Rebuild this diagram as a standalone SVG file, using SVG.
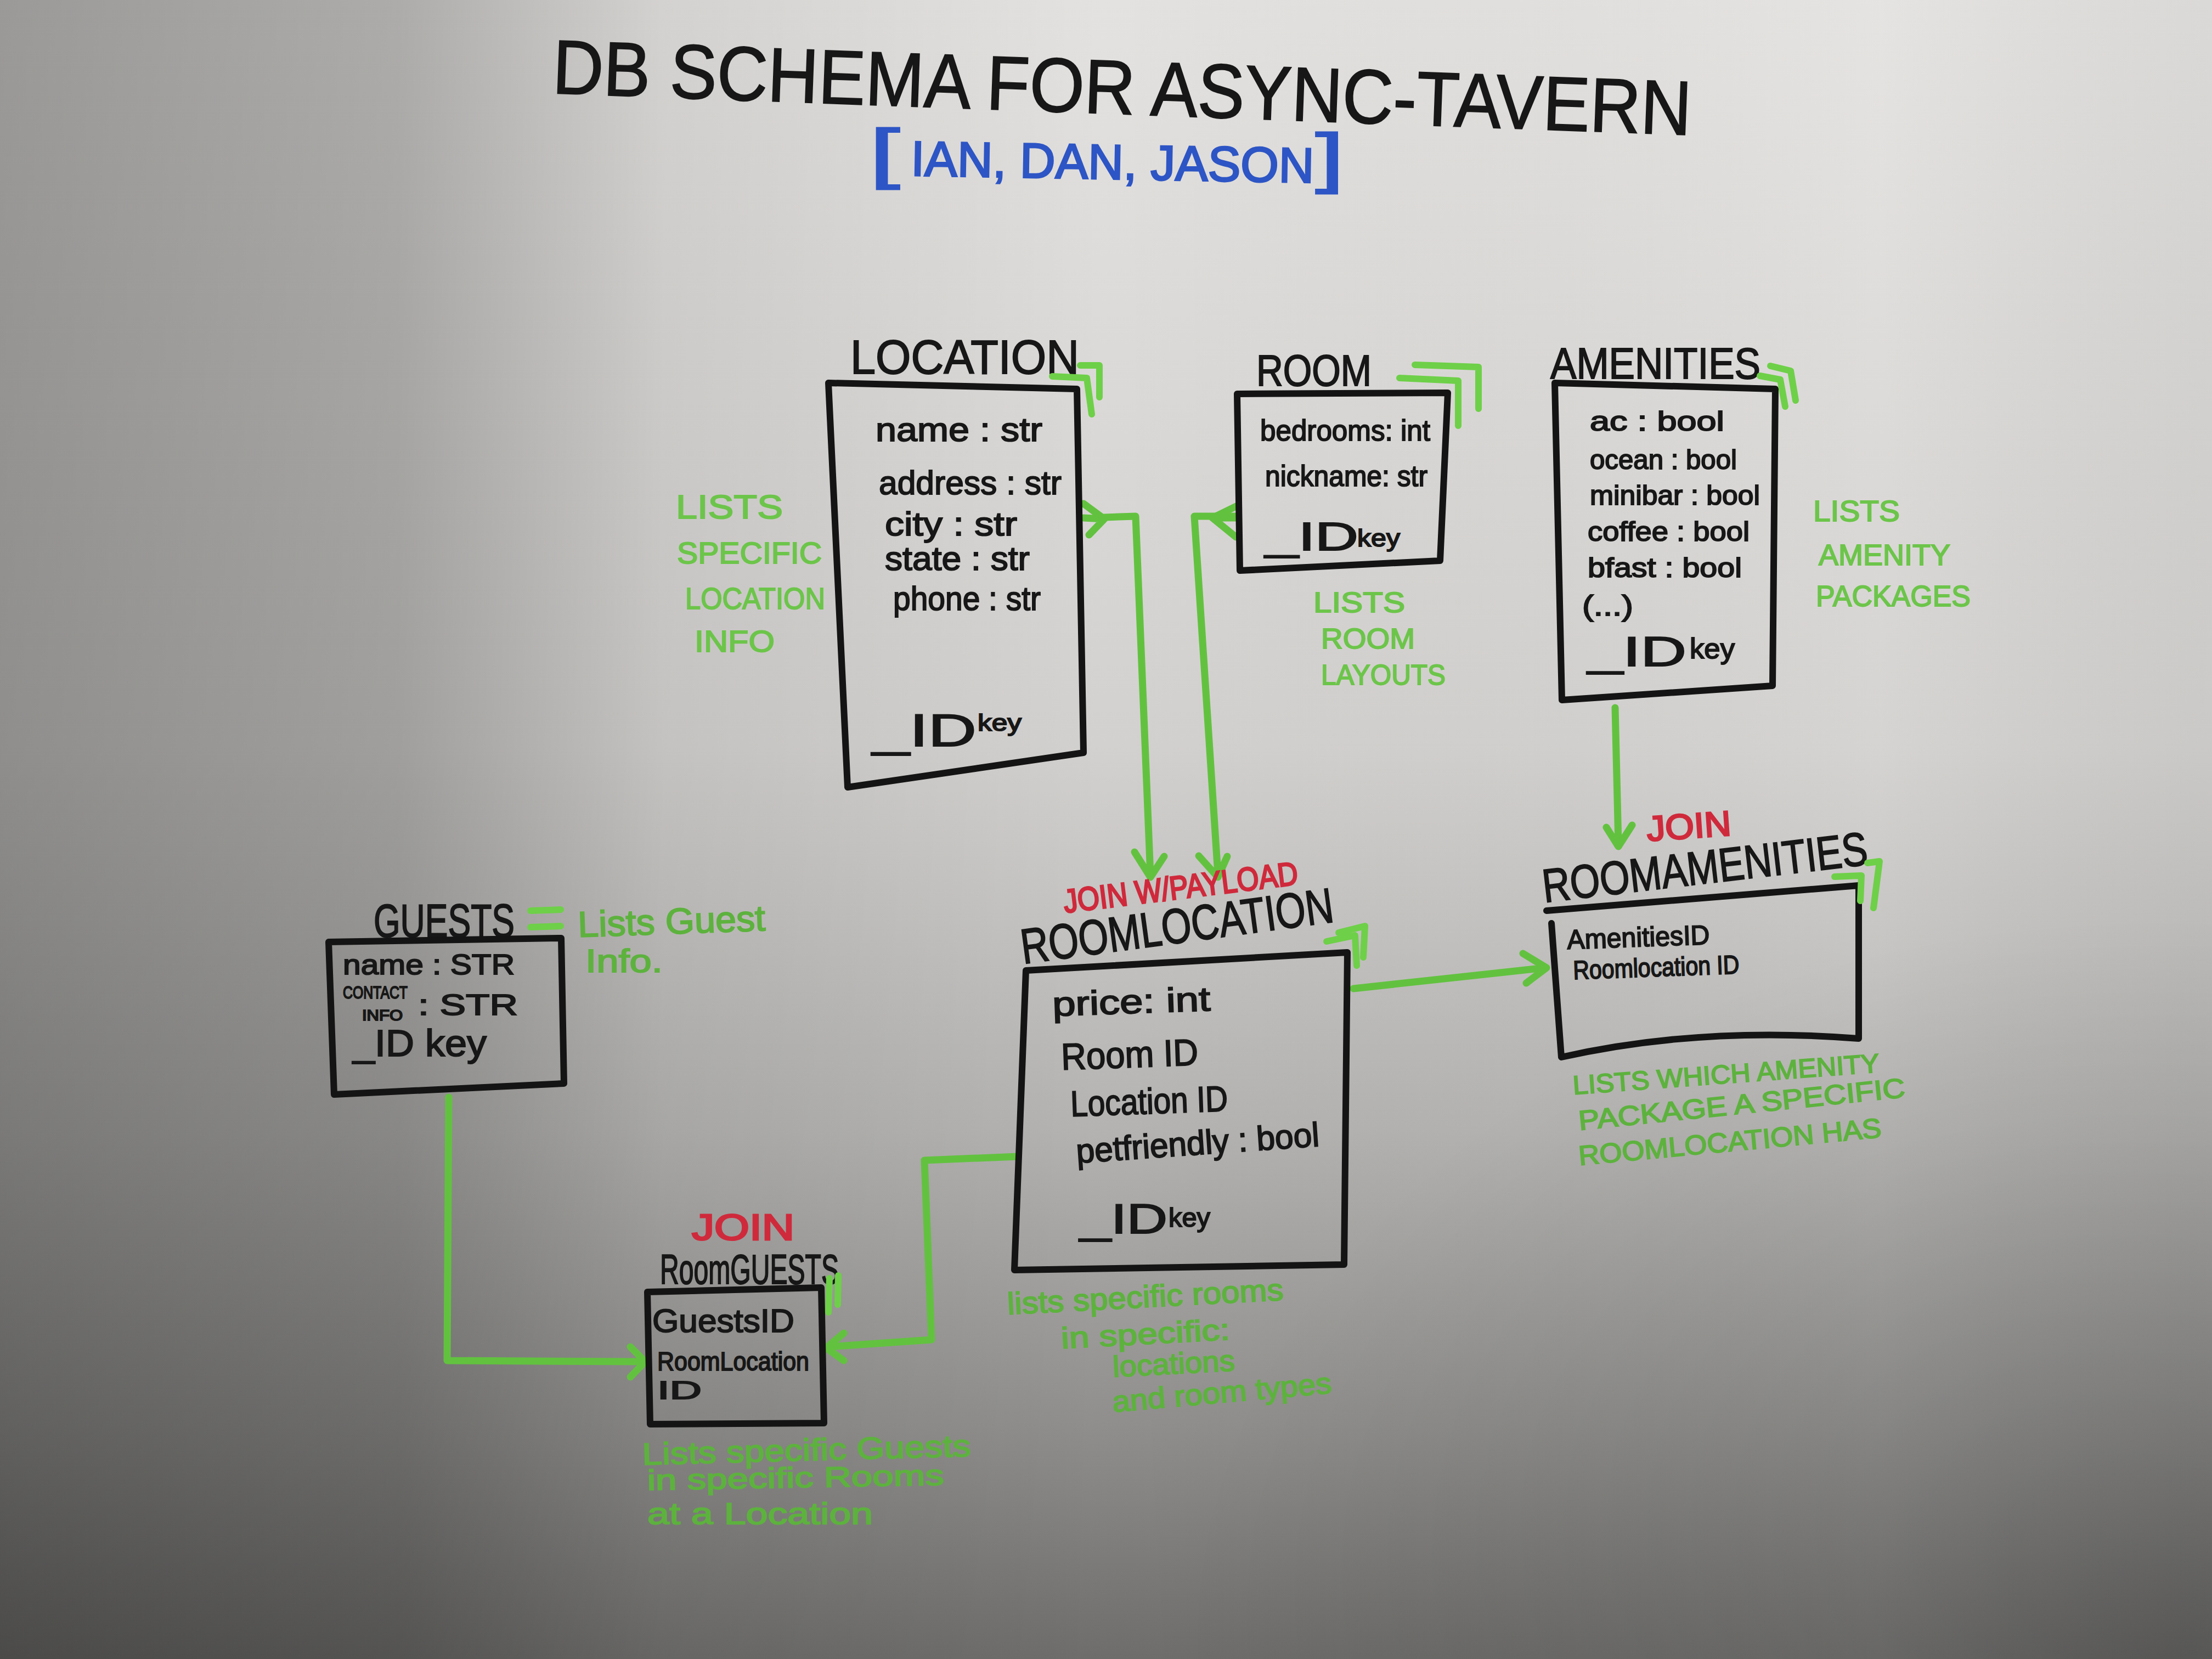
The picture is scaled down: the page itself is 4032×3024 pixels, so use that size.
<svg xmlns="http://www.w3.org/2000/svg" width="4032" height="3024" viewBox="0 0 4032 3024">
<defs>
<linearGradient id="bgv" x1="0" y1="0" x2="0" y2="1">
<stop offset="0" stop-color="#e4e2e0"/>
<stop offset="0.45" stop-color="#d3d1cf"/>
<stop offset="0.68" stop-color="#b4b3b1"/>
<stop offset="0.86" stop-color="#8f8e8c"/>
<stop offset="1" stop-color="#6e6d6b"/>
</linearGradient>
<linearGradient id="bgh" x1="0" y1="0" x2="1" y2="0">
<stop offset="0" stop-color="#000" stop-opacity="0.32"/>
<stop offset="0.18" stop-color="#000" stop-opacity="0.24"/>
<stop offset="0.3" stop-color="#000" stop-opacity="0.07"/>
<stop offset="0.5" stop-color="#000" stop-opacity="0"/>
<stop offset="0.85" stop-color="#fff" stop-opacity="0.06"/>
<stop offset="1" stop-color="#000" stop-opacity="0.04"/>
</linearGradient>
<radialGradient id="bgr" cx="0.98" cy="1" r="0.45">
<stop offset="0" stop-color="#000" stop-opacity="0.18"/>
<stop offset="1" stop-color="#000" stop-opacity="0"/>
</radialGradient>
<style>
text{font-family:"Liberation Sans",Arial,sans-serif;}
.k{fill:#171717;stroke:#171717;stroke-width:2;}
.g{fill:#6cc54a;stroke:#6cc54a;stroke-width:2;}
.gd{fill:#5db23e;stroke:#5db23e;stroke-width:2;}
.r{fill:#cf2a3c;stroke:#cf2a3c;stroke-width:3;}
.b{fill:#2d55c5;stroke:#2d55c5;stroke-width:3;}
.box{fill:none;stroke:#141414;stroke-width:12;stroke-linejoin:round;stroke-linecap:round;}
.conn{fill:none;stroke:#62c23f;stroke-width:13;stroke-linejoin:round;stroke-linecap:round;}
.mark{fill:none;stroke:#6ed048;stroke-width:12;stroke-linejoin:round;stroke-linecap:round;}
</style>
</defs>
<rect x="0" y="0" width="4032" height="3024" fill="url(#bgv)"/>
<rect x="0" y="0" width="4032" height="3024" fill="url(#bgh)"/>
<rect x="0" y="0" width="4032" height="3024" fill="url(#bgr)"/>

<g id="title">
<text class="k" x="1006" y="170" font-size="140" textLength="2077" lengthAdjust="spacingAndGlyphs" transform="rotate(2.1 1006 170)">DB SCHEMA FOR ASYNC-TAVERN</text>
<text class="b" x="1585" y="320" font-size="120" textLength="55" lengthAdjust="spacingAndGlyphs">[</text>
<text class="b" x="1660" y="320" font-size="90" textLength="735" lengthAdjust="spacingAndGlyphs" transform="rotate(1 1660 320)">IAN, DAN, JASON</text>
<text class="b" x="2398" y="328" font-size="120" textLength="52" lengthAdjust="spacingAndGlyphs">]</text>
</g>

<g id="connectors">
<path class="conn" d="M1975,918 L2013,946 L1985,975 M1975,944 L2013,946"/>
<path class="conn" d="M2013,943 L2070,941 L2097,1596"/>
<path class="conn" d="M2068,1553 L2097,1599 L2122,1561"/>
<path class="conn" d="M2257,921 L2210,944 L2253,979 M2257,944 L2210,944"/>
<path class="conn" d="M2257,941 L2177,941 L2220,1594"/>
<path class="conn" d="M2185,1560 L2220,1599 L2237,1561"/>
<path class="conn" d="M2944,1290 L2950,1540"/>
<path class="conn" d="M2928,1508 L2950,1543 L2975,1504"/>
<path class="conn" d="M2467,1802 L2817,1764"/>
<path class="conn" d="M2776,1738 L2819,1764 L2782,1792"/>
<path class="conn" d="M818,2000 L815,2480 L1172,2482"/>
<path class="conn" d="M1149,2455 L1176,2482 L1149,2510"/>
<path class="conn" d="M1856,2108 L1685,2115 L1698,2442 L1510,2455"/>
<path class="conn" d="M1538,2430 L1506,2457 L1538,2480"/>
</g>

<g id="node-location">
<text class="k" x="1550" y="681" font-size="88" textLength="417" lengthAdjust="spacingAndGlyphs">LOCATION</text>
<path class="box" d="M1510,698 L1963,709 L1975,1372 L1545,1435 Z"/>
<path class="mark" d="M1969,666 L2004,666 L2004,724 M1918,686 L1981,689 L1990,755"/>
<text class="k" x="1596" y="804" font-size="62" textLength="304" lengthAdjust="spacingAndGlyphs">name : str</text>
<text class="k" x="1602" y="901" font-size="62" textLength="333" lengthAdjust="spacingAndGlyphs">address : str</text>
<text class="k" x="1613" y="976" font-size="62" textLength="241" lengthAdjust="spacingAndGlyphs">city : str</text>
<text class="k" x="1613" y="1039" font-size="62" textLength="264" lengthAdjust="spacingAndGlyphs">state : str</text>
<text class="k" x="1628" y="1112" font-size="62" textLength="269" lengthAdjust="spacingAndGlyphs">phone : str</text>
<text class="k" x="1590" y="1360" font-size="84" textLength="190" lengthAdjust="spacingAndGlyphs">_ID</text>
<text class="k" x="1782" y="1332" font-size="42" textLength="80" lengthAdjust="spacingAndGlyphs">key</text>
</g>

<g id="node-room">
<text class="k" x="2290" y="703" font-size="80" textLength="210" lengthAdjust="spacingAndGlyphs">ROOM</text>
<path class="box" d="M2255,718 L2639,716 L2625,1022 L2260,1040 Z"/>
<path class="mark" d="M2579,665 L2695,669 L2695,745 M2551,689 L2658,694 L2658,776"/>
<text class="k" x="2297" y="803" font-size="54" textLength="310" lengthAdjust="spacingAndGlyphs">bedrooms: int</text>
<text class="k" x="2306" y="886" font-size="54" textLength="296" lengthAdjust="spacingAndGlyphs">nickname: str</text>
<text class="k" x="2306" y="1003" font-size="72" textLength="170" lengthAdjust="spacingAndGlyphs">_ID</text>
<text class="k" x="2474" y="996" font-size="44" textLength="78" lengthAdjust="spacingAndGlyphs">key</text>
</g>

<g id="node-amenities">
<text class="k" x="2826" y="690" font-size="80" textLength="383" lengthAdjust="spacingAndGlyphs">AMENITIES</text>
<path class="box" d="M2834,698 L3236,709 L3231,1250 L2847,1276 Z"/>
<path class="mark" d="M3227,667 L3264,676 L3273,730 M3208,685 L3245,692 L3254,741"/>
<text class="k" x="2898" y="785" font-size="50" textLength="245" lengthAdjust="spacingAndGlyphs">ac : bool</text>
<text class="k" x="2898" y="855" font-size="50" textLength="268" lengthAdjust="spacingAndGlyphs">ocean : bool</text>
<text class="k" x="2898" y="920" font-size="50" textLength="310" lengthAdjust="spacingAndGlyphs">minibar : bool</text>
<text class="k" x="2894" y="986" font-size="50" textLength="295" lengthAdjust="spacingAndGlyphs">coffee : bool</text>
<text class="k" x="2894" y="1052" font-size="50" textLength="281" lengthAdjust="spacingAndGlyphs">bfast : bool</text>
<text class="k" x="2884" y="1122" font-size="52" textLength="93" lengthAdjust="spacingAndGlyphs">(...)</text>
<text class="k" x="2894" y="1214" font-size="76" textLength="180" lengthAdjust="spacingAndGlyphs">_ID</text>
<text class="k" x="3080" y="1200" font-size="52" textLength="82" lengthAdjust="spacingAndGlyphs">key</text>
</g>

<g id="node-roomlocation">
<text class="r" x="1941" y="1664" font-size="60" textLength="430" lengthAdjust="spacingAndGlyphs" transform="rotate(-7 1941 1664)">JOIN W/PAYLOAD</text>
<text class="k" x="1865" y="1757" font-size="90" textLength="574" lengthAdjust="spacingAndGlyphs" transform="rotate(-7.7 1865 1757)">ROOMLOCATION</text>
<path class="box" d="M1870,1769 L2456,1736 L2450,2305 L1849,2315 Z"/>
<path class="mark" d="M2440,1700 L2488,1688 L2485,1745 M2418,1716 L2470,1705 L2473,1760"/>
<text class="k" x="1919" y="1852" font-size="62" textLength="288" lengthAdjust="spacingAndGlyphs" transform="rotate(-2 1919 1852)">price: int</text>
<text class="k" x="1935" y="1950" font-size="68" textLength="250" lengthAdjust="spacingAndGlyphs" transform="rotate(-2 1935 1950)">Room ID</text>
<text class="k" x="1952" y="2035" font-size="66" textLength="287" lengthAdjust="spacingAndGlyphs" transform="rotate(-2 1952 2035)">Location ID</text>
<text class="k" x="1963" y="2120" font-size="62" textLength="444" lengthAdjust="spacingAndGlyphs" transform="rotate(-4 1963 2120)">petfriendly : bool</text>
<text class="k" x="1968" y="2248" font-size="76" textLength="160" lengthAdjust="spacingAndGlyphs">_ID</text>
<text class="k" x="2130" y="2236" font-size="48" textLength="76" lengthAdjust="spacingAndGlyphs">key</text>
</g>

<g id="node-roomamenities">
<text class="r" x="3003" y="1533" font-size="64" textLength="154" lengthAdjust="spacingAndGlyphs" transform="rotate(-4 3003 1533)">JOIN</text>
<text class="k" x="2815" y="1645" font-size="86" textLength="596" lengthAdjust="spacingAndGlyphs" transform="rotate(-6.7 2815 1645)">ROOMAMENITIES</text>
<path class="box" d="M2819,1660 L3388,1614 L3388,1893 Q3100,1870 2846,1927 L2828,1683"/>
<path class="mark" d="M3404,1573 L3426,1570 L3415,1655 M3344,1598 L3393,1596 L3391,1642"/>
<text class="k" x="2857" y="1730" font-size="50" textLength="260" lengthAdjust="spacingAndGlyphs" transform="rotate(-2 2857 1730)">AmenitiesID</text>
<text class="k" x="2868" y="1785" font-size="48" textLength="303" lengthAdjust="spacingAndGlyphs" transform="rotate(-2 2868 1785)">Roomlocation ID</text>
</g>

<g id="node-guests">
<text class="k" x="681" y="1708" font-size="86" textLength="257" lengthAdjust="spacingAndGlyphs">GUESTS</text>
<path class="box" d="M599,1717 L1023,1710 L1028,1975 L609,1995 Z"/>
<text class="k" x="625" y="1776" font-size="52" textLength="313" lengthAdjust="spacingAndGlyphs">name : STR</text>
<text class="k" x="625" y="1820" font-size="32" textLength="118" lengthAdjust="spacingAndGlyphs">CONTACT</text>
<text class="k" x="660" y="1860" font-size="27" textLength="74" lengthAdjust="spacingAndGlyphs">INFO</text>
<text class="k" x="762" y="1850" font-size="54" textLength="182" lengthAdjust="spacingAndGlyphs">: STR</text>
<text class="k" x="643" y="1925" font-size="68" textLength="244" lengthAdjust="spacingAndGlyphs">_ID key</text>
</g>

<g id="node-roomguests">
<text class="r" x="1261" y="2260" font-size="66" textLength="187" lengthAdjust="spacingAndGlyphs">JOIN</text>
<text class="k" x="1203" y="2340" font-size="76" textLength="326" lengthAdjust="spacingAndGlyphs">RoomGUESTS</text>
<path class="box" d="M1180,2355 L1497,2347 L1502,2594 L1185,2596 Z"/>
<path class="mark" d="M1512,2330 L1510,2392 M1528,2325 L1527,2378"/>
<text class="k" x="1189" y="2428" font-size="60" textLength="259" lengthAdjust="spacingAndGlyphs">GuestsID</text>
<text class="k" x="1198" y="2498" font-size="48" textLength="277" lengthAdjust="spacingAndGlyphs">RoomLocation</text>
<text class="k" x="1198" y="2550" font-size="46" textLength="81" lengthAdjust="spacingAndGlyphs">ID</text>
</g>

<g id="annotations">
<text class="g" x="1232" y="945" font-size="62" textLength="195" lengthAdjust="spacingAndGlyphs">LISTS</text>
<text class="g" x="1234" y="1027" font-size="56" textLength="264" lengthAdjust="spacingAndGlyphs">SPECIFIC</text>
<text class="g" x="1249" y="1110" font-size="56" textLength="255" lengthAdjust="spacingAndGlyphs">LOCATION</text>
<text class="g" x="1266" y="1188" font-size="56" textLength="146" lengthAdjust="spacingAndGlyphs">INFO</text>

<text class="g" x="2394" y="1116" font-size="52" textLength="167" lengthAdjust="spacingAndGlyphs">LISTS</text>
<text class="g" x="2408" y="1182" font-size="52" textLength="171" lengthAdjust="spacingAndGlyphs">ROOM</text>
<text class="g" x="2408" y="1248" font-size="52" textLength="227" lengthAdjust="spacingAndGlyphs">LAYOUTS</text>

<text class="g" x="3305" y="950" font-size="54" textLength="158" lengthAdjust="spacingAndGlyphs">LISTS</text>
<text class="g" x="3315" y="1030" font-size="54" textLength="240" lengthAdjust="spacingAndGlyphs">AMENITY</text>
<text class="g" x="3310" y="1105" font-size="54" textLength="282" lengthAdjust="spacingAndGlyphs">PACKAGES</text>

<path class="mark" d="M967,1660 L1022,1658 M967,1690 L1022,1688" stroke="#5bb83a"/>
<text class="gd" x="1054" y="1708" font-size="66" textLength="342" lengthAdjust="spacingAndGlyphs" transform="rotate(-2 1054 1708)">Lists Guest</text>
<text class="gd" x="1067" y="1772" font-size="60" textLength="141" lengthAdjust="spacingAndGlyphs">Info.</text>

<text class="gd" x="2868" y="1995" font-size="48" textLength="560" lengthAdjust="spacingAndGlyphs" transform="rotate(-4.2 2868 1995)">LISTS WHICH AMENITY</text>
<text class="gd" x="2879" y="2060" font-size="50" textLength="598" lengthAdjust="spacingAndGlyphs" transform="rotate(-5.8 2879 2060)">PACKAGE A SPECIFIC</text>
<text class="gd" x="2879" y="2124" font-size="50" textLength="554" lengthAdjust="spacingAndGlyphs" transform="rotate(-5.3 2879 2124)">ROOMLOCATION HAS</text>

<text class="gd" x="1837" y="2396" font-size="56" textLength="504" lengthAdjust="spacingAndGlyphs" transform="rotate(-3 1837 2396)">lists specific rooms</text>
<text class="gd" x="1935" y="2458" font-size="54" textLength="308" lengthAdjust="spacingAndGlyphs" transform="rotate(-3 1935 2458)">in specific:</text>
<text class="gd" x="2029" y="2510" font-size="54" textLength="223" lengthAdjust="spacingAndGlyphs" transform="rotate(-3 2029 2510)">locations</text>
<text class="gd" x="2029" y="2574" font-size="54" textLength="401" lengthAdjust="spacingAndGlyphs" transform="rotate(-5 2029 2574)">and room types</text>

<text class="gd" x="1171" y="2670" font-size="56" textLength="599" lengthAdjust="spacingAndGlyphs" transform="rotate(-1.5 1171 2670)">Lists specific Guests</text>
<text class="gd" x="1180" y="2716" font-size="52" textLength="541" lengthAdjust="spacingAndGlyphs" transform="rotate(-1 1180 2716)">in specific Rooms</text>
<text class="gd" x="1180" y="2778" font-size="56" textLength="411" lengthAdjust="spacingAndGlyphs">at a Location</text>
</g>
</svg>
